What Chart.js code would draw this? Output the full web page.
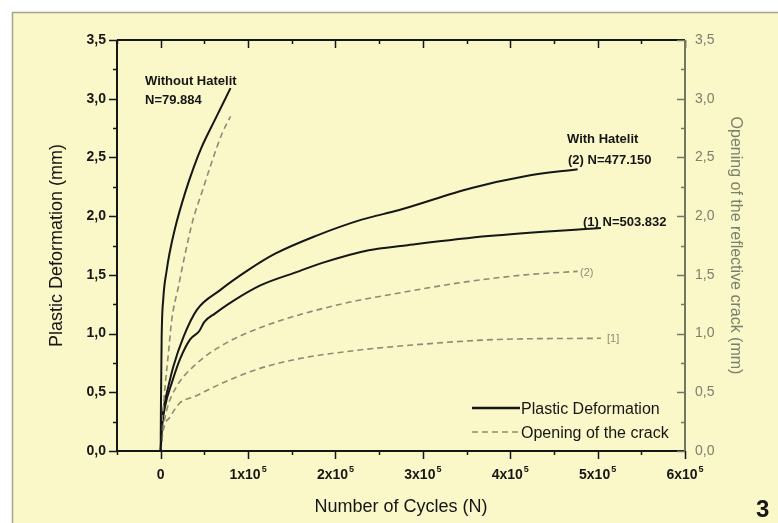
<!DOCTYPE html>
<html>
<head>
<meta charset="utf-8">
<script src="https://cdn.jsdelivr.net/npm/chart.js@4/dist/chart.umd.min.js"></script>
<style>
  html, body { margin: 0; padding: 0; background: #fff; }
  #wrap { width: 778px; height: 523px; }
</style>
</head>
<body>
<div id="wrap"><canvas id="fatigueChart" width="778" height="523"></canvas></div>
<script>
// --- DATA ---
// without Hatelit, plastic deformation
const cyclesWithout = [0, 300, 1100, 3000, 6900, 10000, 16500, 28000, 38000, 47000, 62000, 79884];
const plasticWithout = [0, 0.4, 0.97, 1.3, 1.54, 1.68, 1.9, 2.2, 2.42, 2.59, 2.82, 3.09];
// without Hatelit, crack opening
const cyclesCrackWithout = [0, 1500, 3100, 5000, 8800, 12700, 20300, 28000, 37000, 47000, 58000, 70000, 79884];
const crackWithout = [0, 0.25, 0.38, 0.55, 0.83, 1.12, 1.40, 1.68, 1.97, 2.2, 2.45, 2.7, 2.85];
// with Hatelit (2)
const cycles2 = [0, 1000, 3100, 8800, 14500, 26000, 41200, 68000, 100000, 131000, 177000, 230000, 272000, 356000, 417000, 477150];
const plastic2 = [0, 0.2, 0.35, 0.55, 0.72, 0.97, 1.20, 1.37, 1.54, 1.68, 1.83, 1.97, 2.05, 2.24, 2.34, 2.40];
const cyclesCrack2 = [0, 3000, 6900, 18300, 37500, 68000, 117600, 200000, 284000, 349000, 417000, 477150];
const crack2 = [0, 0.2, 0.35, 0.55, 0.72, 0.89, 1.06, 1.24, 1.36, 1.44, 1.50, 1.53];
// with Hatelit (1)
const cycles1 = [0, 1500, 5000, 12700, 22000, 33700, 44000, 50000, 62000, 81300, 114000, 158000, 184000, 238000, 280000, 375000, 503832];
const plastic1 = [0, 0.2, 0.38, 0.58, 0.78, 0.95, 1.02, 1.1, 1.17, 1.27, 1.41, 1.53, 1.60, 1.71, 1.75, 1.83, 1.90];
const cyclesCrack1 = [0, 3000, 10700, 22000, 37500, 68000, 108000, 154000, 216000, 284000, 387000, 503832];
const crack1 = [0, 0.18, 0.29, 0.41, 0.46, 0.57, 0.69, 0.78, 0.85, 0.90, 0.95, 0.96];

const xTicks = [0, 100000, 200000, 300000, 400000, 500000, 600000];
const xTickLabels = ['0', '1x10⁵', '2x10⁵', '3x10⁵', '4x10⁵', '5x10⁵', '6x10⁵'];

const FONT = '"Liberation Sans", Arial, sans-serif';
const INK = '#161616';
const DASH = '#8b8d73';
const RIGHT = '#6f7862';

const pts = (xs, ys) => xs.map((x, i) => ({ x: x, y: ys[i] }));
const comma = v => v.toFixed(1).replace('.', ',');

function solid(data) {
    return { data: data, yAxisID: 'y', borderColor: INK, borderWidth: 2, pointRadius: 0, cubicInterpolationMode: 'monotone', fill: false };
}
function dashed(data) {
    return { data: data, yAxisID: 'y2', borderColor: DASH, borderWidth: 1.6, borderDash: [6, 4], pointRadius: 0, cubicInterpolationMode: 'monotone', fill: false };
}

// paper, frame, tick marks, labels and legend
const paperPlugin = {
    id: 'paper',
    beforeDraw(chart) {
        const { ctx, width, height } = chart;
        ctx.save();
        ctx.fillStyle = '#ffffff';
        ctx.fillRect(0, 0, width, height);
        ctx.fillStyle = '#faf7c8';
        ctx.fillRect(12, 12, width - 12, height - 12);
        ctx.strokeStyle = '#a5a48a';
        ctx.lineWidth = 1.5;
        ctx.beginPath();
        ctx.moveTo(12.5, height);
        ctx.lineTo(12.5, 12.5);
        ctx.lineTo(width, 12.5);
        ctx.stroke();
        ctx.restore();
    },
    afterDatasetsDraw(chart) {
        const { ctx, chartArea: a, scales } = chart;
        const x = scales.x, y = scales.y, y2 = scales.y2;
        ctx.save();
        ctx.lineCap = 'butt';

        // x ticks bottom (out) and top (in)
        ctx.strokeStyle = INK;
        ctx.lineWidth = 1.5;
        for (let v = -50000; v <= 600000; v += 50000) {
            const px = Math.round(x.getPixelForValue(v)) + 0.5;
            const len = v % 100000 === 0 ? 8 : 4;
            ctx.beginPath();
            ctx.moveTo(px, a.bottom); ctx.lineTo(px, a.bottom + len);
            ctx.moveTo(px, a.top); ctx.lineTo(px, a.top + len);
            ctx.stroke();
        }
        // left ticks (out)
        for (let v = 0; v <= 3.5; v += 0.25) {
            const py = Math.round(y.getPixelForValue(v)) + 0.5;
            const len = Math.abs(v * 2 - Math.round(v * 2)) < 1e-6 ? 8 : 4;
            ctx.beginPath();
            ctx.moveTo(a.left - len, py); ctx.lineTo(a.left, py);
            ctx.stroke();
        }
        // frame lines
        ctx.lineWidth = 2;
        ctx.beginPath();
        ctx.moveTo(a.left, a.top); ctx.lineTo(a.left, a.bottom); ctx.lineTo(a.right, a.bottom);
        ctx.moveTo(a.left, a.top); ctx.lineTo(a.right, a.top);
        ctx.stroke();

        // right axis (in)
        ctx.strokeStyle = RIGHT;
        ctx.lineWidth = 1.5;
        for (let v = 0; v <= 3.5; v += 0.25) {
            const py = Math.round(y2.getPixelForValue(v)) + 0.5;
            const len = Math.abs(v * 2 - Math.round(v * 2)) < 1e-6 ? 8 : 4;
            ctx.beginPath();
            ctx.moveTo(a.right - len, py); ctx.lineTo(a.right, py);
            ctx.stroke();
        }
        ctx.lineWidth = 2;
        ctx.beginPath();
        ctx.moveTo(a.right, a.top); ctx.lineTo(a.right, a.bottom);
        ctx.stroke();

        // x tick labels with raised exponent
        ctx.fillStyle = INK;
        ctx.textBaseline = 'alphabetic';
        ctx.textAlign = 'left';
        const baseFont = 'bold 14px ' + FONT;
        const supFont = 'bold 9px ' + FONT;
        xTicks.forEach((v, i) => {
            const parts = xTickLabels[i].split('⁵');
            ctx.font = baseFont;
            const w1 = ctx.measureText(parts[0]).width;
            let w2 = 0;
            if (parts.length > 1) { ctx.font = supFont; w2 = ctx.measureText('5').width + 1; }
            const cx = x.getPixelForValue(v);
            const sx = cx - (w1 + w2) / 2;
            ctx.font = baseFont;
            ctx.fillText(parts[0], sx, a.bottom + 28);
            if (parts.length > 1) {
                ctx.font = supFont;
                ctx.fillText('5', sx + w1 + 1, a.bottom + 21);
            }
        });

        // curve labels
        ctx.font = 'bold 13px ' + FONT;
        ctx.fillText('Without Hatelit', 145, 85);
        ctx.fillText('N=79.884', 145, 104);
        ctx.fillText('With Hatelit', 567, 143);
        ctx.fillText('(2) N=477.150', 568, 164);
        ctx.fillText('(1) N=503.832', 583, 226);
        ctx.fillStyle = DASH;
        ctx.font = '11px ' + FONT;
        ctx.fillText('(2)', 580, 276);
        ctx.fillText('[1]', 607, 342);

        // legend
        ctx.strokeStyle = INK;
        ctx.lineWidth = 2.5;
        ctx.beginPath();
        ctx.moveTo(472, 408); ctx.lineTo(520, 408);
        ctx.stroke();
        ctx.strokeStyle = DASH;
        ctx.lineWidth = 1.6;
        ctx.setLineDash([6, 4]);
        ctx.beginPath();
        ctx.moveTo(472, 432); ctx.lineTo(520, 432);
        ctx.stroke();
        ctx.setLineDash([]);
        ctx.fillStyle = INK;
        ctx.font = '16px ' + FONT;
        ctx.fillText('Plastic Deformation', 521, 414);
        ctx.fillText('Opening of the crack', 521, 438);

        // figure number
        ctx.font = 'bold 24px ' + FONT;
        ctx.fillText('3', 756, 517);
        ctx.restore();
    }
};

const ctxMain = document.getElementById('fatigueChart').getContext('2d');
const fatigueChart = new Chart(ctxMain, {
    type: 'line',
    data: {
        datasets: [
            solid(pts(cyclesWithout, plasticWithout)),
            dashed(pts(cyclesCrackWithout, crackWithout)),
            solid(pts(cycles2, plastic2)),
            dashed(pts(cyclesCrack2, crack2)),
            solid(pts(cycles1, plastic1)),
            dashed(pts(cyclesCrack1, crack1))
        ]
    },
    options: {
        responsive: false,
        animation: false,
        layout: { padding: { top: 40, left: 0, right: 0, bottom: 0 } },
        plugins: { legend: { display: false }, tooltip: { enabled: false } },
        scales: {
            x: {
                type: 'linear', min: -50000, max: 600000,
                grid: { display: false, drawTicks: false }, border: { display: false },
                afterBuildTicks: s => { s.ticks = xTicks.map(v => ({ value: v })); },
                afterFit: s => { s.height = 72; },
                ticks: { display: false },
                title: { display: true, text: 'Number of Cycles (N)', color: INK, padding: { top: 0, bottom: 5 }, font: { family: FONT, size: 18 } }
            },
            y: {
                position: 'left', min: 0, max: 3.5,
                grid: { display: false, drawTicks: false }, border: { display: false },
                afterFit: s => { s.width = 117; },
                ticks: { stepSize: 0.5, padding: 11, color: INK, font: { family: FONT, size: 14, weight: 'bold' }, callback: v => comma(v) },
                title: { display: true, text: 'Plastic Deformation (mm)', color: INK, padding: { top: 46, bottom: 0 }, font: { family: FONT, size: 18 } }
            },
            y2: {
                position: 'right', min: 0, max: 3.5,
                grid: { display: false, drawTicks: false }, border: { display: false },
                afterFit: s => { s.width = 93; },
                ticks: { stepSize: 0.5, padding: 10, color: '#7b806c', font: { family: FONT, size: 14 }, callback: v => comma(v) },
                title: { display: true, text: 'Opening of the reflective crack (mm)', color: '#7b806c', padding: { top: 33, bottom: 0 }, font: { family: FONT, size: 16 } }
            }
        }
    },
    plugins: [paperPlugin]
});
</script>
</body>
</html>
